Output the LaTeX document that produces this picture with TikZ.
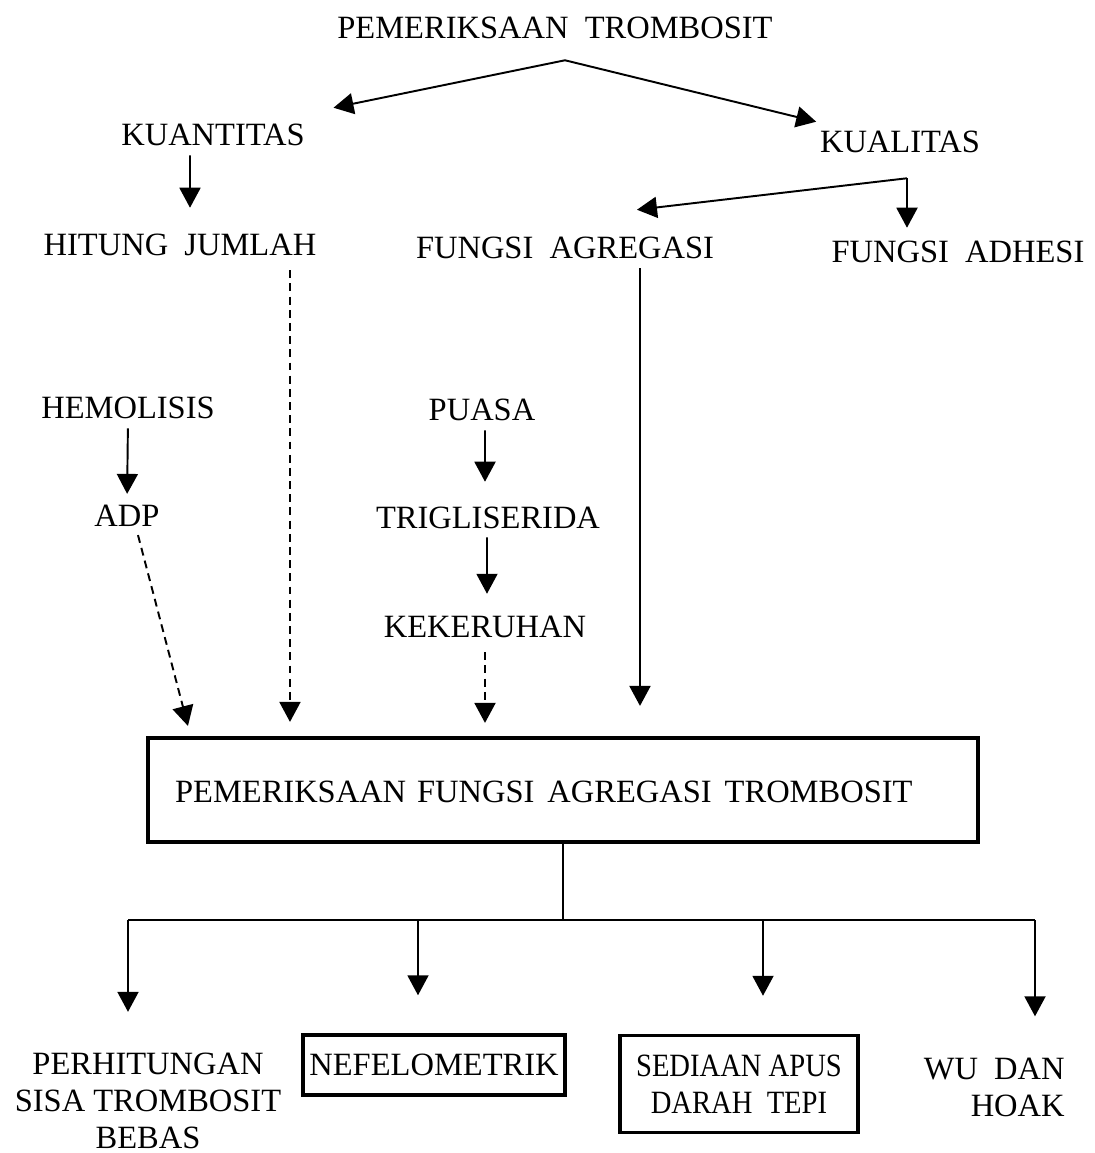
\documentclass[tikz,border=0pt]{standalone}
\usepackage{fontspec}
\setmainfont{Liberation Serif}
\newfontfamily\narrowserif[FakeStretch=0.88]{Liberation Serif}
\usetikzlibrary{arrows.meta}
\tikzset{
  lbl/.style={inner sep=0pt, align=center, font=\fontsize{18.5}{21}\selectfont},
  frame/.style={lbl, draw, line width=2pt},
  bigframe/.style={frame, line width=2.4pt},
  conn/.style={line width=1.1pt},
  flow/.style={conn, -{Triangle[length=0.4cm, width=0.42cm]}},
  dflow/.style={flow, dash pattern=on 4.5pt off 3pt}
}
\begin{document}
\begin{tikzpicture}[x=0.02cm, y=-0.02cm]
  \useasboundingbox (0,0) rectangle (1095,1153);
  % upper part
  \node[lbl] (title) at (555,28) {PEMERIKSAAN\ \ TROMBOSIT};
  \node[lbl] (kuan) at (213,135) {KUANTITAS};
  \node[lbl] (kual) at (900,142) {KUALITAS};
  \node[lbl] (hitung) at (180,245) {HITUNG\ \ JUMLAH};
  \node[lbl] (agreg) at (565,248) {FUNGSI\ \ AGREGASI};
  \node[lbl] (adhesi) at (958,252) {FUNGSI\ \ ADHESI};
  \coordinate (apex) at ([xshift=0.2cm, yshift=-0.42cm]title.south);
  \coordinate (kualFork) at ([xshift=0.14cm, yshift=-0.5cm]kual.south);
  \draw[flow] (apex) -- ([xshift=0.57cm, yshift=0.32cm]kuan.north east);
  \draw[flow] (apex) -- ([xshift=-0.07cm, yshift=0.18cm]kual.north west);
  \draw[flow] ([xshift=-0.46cm, yshift=-0.18cm]kuan.south) -- ([xshift=0.2cm, yshift=0.52cm]hitung.north);
  \draw[flow] (kualFork) -- ([xshift=1.44cm, yshift=0.54cm]agreg.north);
  \draw[flow, shorten >=0.26cm] (kualFork) -- (kualFork |- adhesi.north);
  % middle part
  \node[lbl] (hemo) at (128,408) {HEMOLISIS};
  \node[lbl] (adp) at (127,516) {ADP};
  \node[lbl] (puasa) at (482,410) {PUASA};
  \node[lbl] (trig) at (488,518) {TRIGLISERIDA};
  \node[lbl] (kek) at (485,627) {KEKERUHAN};
  \node[bigframe, text width=15.52cm, inner xsep=0.54cm, minimum height=2.08cm, align=left] (box) at (563,790)
    {\rule{0pt}{0.5cm}PEMERIKSAAN FUNGSI\hspace{0.4em}AGREGASI\hspace{0.4em}TROMBOSIT};
  \draw[flow, shorten <=0.18cm, shorten >=0.22cm] (hemo.south) -- (adp.north);
  \draw[flow, shorten <=0.18cm, shorten >=0.5cm] ([xshift=0.06cm]puasa.south) -- ([xshift=-0.06cm]trig.north);
  \draw[flow, shorten <=0.16cm, shorten >=0.44cm] ([xshift=-0.02cm]trig.south) -- ([xshift=0.04cm]kek.north);
  \coordinate (hitDrop) at ([xshift=2.2cm, yshift=-0.28cm]hitung.south);
  \coordinate (agrDrop) at ([xshift=1.5cm, yshift=-0.18cm]agreg.south);
  \draw[dflow] ([xshift=0.22cm, yshift=-0.16cm]adp.south) -- ([xshift=0.84cm, yshift=0.2cm]box.north west);
  \draw[dflow, shorten >=0.28cm] (hitDrop) -- (hitDrop |- box.north);
  \draw[dflow, shorten <=0.28cm, shorten >=0.26cm] (kek.south) -- (kek.south |- box.north);
  \draw[flow, shorten >=0.6cm] (agrDrop) -- (agrDrop |- box.north);
  % lower part
  \node[lbl] (perhit) at (148,1101) {PERHITUNGAN\\SISA TROMBOSIT\\BEBAS};
  \node[frame, minimum width=5.24cm, minimum height=1.2cm] (nefelo) at (434,1065) {NEFELOMETRIK};
  \node[frame, minimum width=4.76cm, minimum height=1.94cm] (apus) at (739,1084) {\narrowserif SEDIAAN APUS\\\narrowserif DARAH\ \ TEPI};
  \node[lbl, align=right, anchor=east] (wuhoak) at (1065,1087) {WU\ \ DAN\\HOAK};
  \coordinate (busA) at (128,920);
  \coordinate (busB) at (418,920);
  \coordinate (busC) at (763,920);
  \coordinate (busD) at (1035,920);
  \draw[conn] (box.south) -- (box.south |- busA);
  \draw[conn] (busA) -- (busD);
  \draw[flow, shorten >=0.82cm] (busA) -- (busA |- perhit.north);
  \draw[flow, shorten >=0.76cm] (busB) -- (busB |- nefelo.north);
  \draw[flow, shorten >=0.76cm] (busC) -- (busC |- apus.north);
  \draw[flow, shorten >=0.82cm] (busD) -- (busD |- wuhoak.north);
\end{tikzpicture}
\end{document}
